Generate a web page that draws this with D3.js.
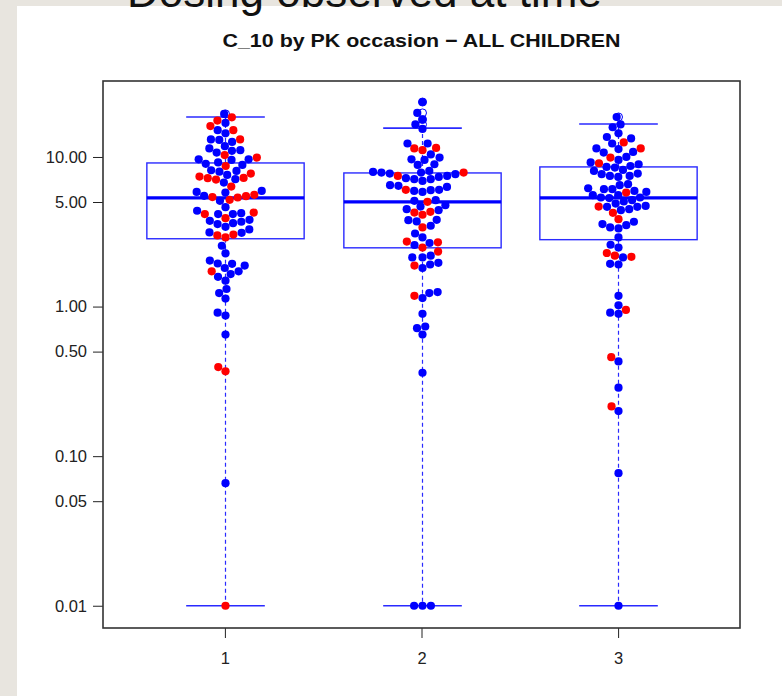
<!doctype html>
<html lang="en">
<head>
    <meta charset="utf-8">
    <title>C_10 by PK occasion</title>
    <script src="https://d3js.org/d3.v7.min.js"></script>
    <style type="text/css">
    body { margin: 0; background: #e8e5df; }
    text { font-family: "Liberation Sans", Arial, sans-serif; }
    </style>
</head>

<body>
</body>

<script type="text/javascript">

    // values, per PK occasion, split by dot colour
    var occasions = [1, 2, 3];

    var occ1Blue = [19.4, 16.9, 15.1, 14.4, 13.0, 12.6, 13.1, 11.8, 11.4, 11.1, 11.0, 10.7,
      9.65, 9.65, 9.55, 9.2, 9.0, 8.85, 8.15, 8.07, 7.98, 7.59, 7.10, 6.74, 5.93, 5.84, 5.78,
      5.50, 5.09, 4.62, 4.37, 4.21, 4.15, 4.15, 3.80, 3.74, 3.69, 3.61, 3.56, 3.41, 3.28, 3.13,
      3.11, 2.55, 2.27, 2.03, 1.94, 1.93, 1.88, 1.81, 1.72, 1.65, 1.58, 1.49, 1.31, 1.23, 1.13,
      0.91, 0.87, 0.65, 0.066];
    var occ1Red = [18.4, 17.5, 16.1, 15.1, 13.1, 10.3, 9.9, 8.7, 7.74, 7.39, 7.24, 7.21, 7.06,
      6.34, 5.58, 5.47, 5.39, 5.36, 5.17, 4.25, 4.15, 3.90, 3.03, 2.99, 2.90, 1.72, 0.394, 0.369, 0.01];

    var occ2Blue = [23.3, 19.7, 17.8, 16.5, 15.4, 12.3, 12.3, 10.4, 9.9, 9.65, 9.55, 8.94, 8.85,
      8.07, 7.94, 7.86, 7.86, 7.74, 7.67, 7.47, 7.36, 7.21, 7.10, 7.10, 6.92, 6.48, 6.41, 6.31,
      6.03, 6.0, 5.93, 5.84, 5.14, 5.09, 4.76, 4.66, 4.48, 4.41, 3.80, 3.78, 3.71, 3.47, 3.08,
      2.90, 2.66, 2.58, 2.19, 2.13, 2.13, 1.96, 1.91, 1.81, 1.25, 1.23, 1.14, 0.894, 0.736,
      0.717, 0.65, 0.361, 0.01, 0.01, 0.01];
    var occ2Red = [11.5, 11.4, 11.1, 7.86, 7.47, 6.03, 5.01, 4.30, 4.25, 4.11, 3.38, 2.72, 2.69,
      2.48, 2.33, 1.88, 1.18];

    var occ3Blue = [18.5, 16.5, 15.8, 14.4, 13.6, 13.3, 12.3, 11.4, 11.3, 10.8, 10.7, 10.0, 9.55,
      9.2, 8.94, 8.7, 8.58, 8.49, 8.19, 8.07, 7.74, 7.67, 7.47, 7.47, 7.36, 6.58, 6.48, 6.18,
      6.09, 6.09, 5.93, 5.84, 5.55, 5.55, 5.36, 5.36, 5.31, 5.14, 5.04, 4.88, 4.71, 4.64, 4.64,
      4.48, 4.41, 3.69, 3.56, 3.50, 3.38, 3.33, 2.90, 2.59, 2.48, 2.13, 1.93, 1.91, 1.18, 1.02,
      0.91, 0.894, 0.43, 0.287, 0.200, 0.077, 0.01];
    var occ3Red = [12.5, 11.4, 9.9, 9.08, 5.78, 4.66, 4.23, 3.84, 2.28, 2.19, 2.15, 0.95, 0.459, 0.215];

    // boxplot statistics
    var whiskerLo = [0.01, 0.01, 0.01];
    var quart1    = [2.84, 2.47, 2.80];
    var medians   = [5.33, 5.01, 5.33];
    var quart3    = [9.12, 7.82, 8.58];
    var whiskerHi = [18.5, 15.6, 16.6];

    var yTicks = [0.01, 0.05, 0.10, 0.50, 1.00, 5.00, 10.00];

    var groups = [
      {blue: occ1Blue, red: occ1Red},
      {blue: occ2Blue, red: occ2Red},
      {blue: occ3Blue, red: occ3Red}];

    var W = 782, H = 696;
    var margin = {top: 81, bottom: 68, left: 103, right: 42};
    var plotW = W - margin.left - margin.right;
    var plotH = H - margin.top - margin.bottom;

    var svg = d3.select("body")
    .append("svg")
    .attr("width", W)
    .attr("height", H);

    // slide background and the cut-off slide heading
    svg.append("rect").attr("width", W).attr("height", H).attr("fill", "#e8e5df");
    svg.append("rect").attr("x", 17).attr("y", 6).attr("width", W - 17).attr("height", H - 6).attr("fill", "white");
    svg.append("text")
    .attr("x", 127).attr("y", 7)
    .style("font-size", "44px")
    .attr("textLength", 475).attr("lengthAdjust", "spacingAndGlyphs")
    .attr("fill", "#111")
    .text("Dosing observed at time");

    var g = svg.append("g")
    .attr("transform", "translate(" + margin.left + "," + margin.top + ")");

    var xScale = d3.scaleLinear()
                .domain([0.38, 3.62])
                .range([0, plotW]);

    var yScale = d3.scaleLog()
                .domain([0.0071, 32.2])
                .range([plotH, 0]);

    var halfBox = xScale(1.4) - xScale(1);
    var halfCap = halfBox / 2;
    var blue = "#0000ff", red = "#ff0000";

    // boxes, whiskers and caps
    occasions.forEach(function(occ, i) {
      var cx = Math.round(xScale(occ)) + 0.5;
      var box = g.append("g");
      box.append("line")
      .attr("x1", cx).attr("x2", cx)
      .attr("y1", yScale(quart3[i])).attr("y2", yScale(whiskerHi[i]))
      .attr("stroke", "#2a2aff").attr("stroke-width", 1.2).attr("stroke-dasharray", "4,3");
      box.append("line")
      .attr("x1", cx).attr("x2", cx)
      .attr("y1", yScale(quart1[i])).attr("y2", yScale(whiskerLo[i]))
      .attr("stroke", "#2a2aff").attr("stroke-width", 1.2).attr("stroke-dasharray", "4,3");
      [whiskerHi[i], whiskerLo[i]].forEach(function(v) {
        box.append("line")
        .attr("x1", cx - halfCap).attr("x2", cx + halfCap)
        .attr("y1", yScale(v)).attr("y2", yScale(v))
        .attr("stroke", "#2a2aff").attr("stroke-width", 1.6);
      });
      box.append("rect")
      .attr("x", cx - halfBox).attr("width", 2 * halfBox)
      .attr("y", yScale(quart3[i])).attr("height", yScale(quart1[i]) - yScale(quart3[i]))
      .attr("fill", "white").attr("stroke", "#2a2aff").attr("stroke-width", 1.4);
      box.append("line")
      .attr("x1", cx - halfBox).attr("x2", cx + halfBox)
      .attr("y1", yScale(medians[i])).attr("y2", yScale(medians[i]))
      .attr("stroke", blue).attr("stroke-width", 3.2);

      // boxplot outliers (open circles, mostly hidden by the swarm)
      var all = groups[i].blue.concat(groups[i].red);
      box.selectAll(".outlier")
      .data(all.filter(function(v) { return v > whiskerHi[i] || v < whiskerLo[i]; }))
      .enter()
      .append("circle")
      .attr("cx", cx).attr("cy", function(d) { return yScale(d); })
      .attr("r", 4).attr("fill", "none").attr("stroke", blue);
    });

    // beeswarm placement, bottom value first, each dot as close to the centre as it fits
    var spacing = 8.4;
    function swarm(points) {
      points.sort(function(a, b) { return a.v - b.v; });
      var placed = [];
      points.forEach(function(p) {
        var near = placed.filter(function(q) { return Math.abs(q.y - p.y) < spacing; });
        var cands = [0];
        near.forEach(function(q) {
          var dx = Math.sqrt(spacing * spacing - (q.y - p.y) * (q.y - p.y));
          cands.push(q.dx - dx, q.dx + dx);
        });
        cands = cands.filter(function(c) {
          return near.every(function(q) {
            var ddx = c - q.dx, ddy = p.y - q.y;
            return ddx * ddx + ddy * ddy >= spacing * spacing - 0.01;
          });
        });
        cands.sort(function(a, b) { return Math.abs(a) - Math.abs(b); });
        p.dx = cands[0];
        placed.push(p);
      });
      return points;
    }

    occasions.forEach(function(occ, i) {
      var pts = groups[i].blue.map(function(v) { return {v: v, c: blue}; })
        .concat(groups[i].red.map(function(v) { return {v: v, c: red}; }));
      pts.forEach(function(p) { p.y = yScale(p.v); });
      swarm(pts);

      g.append("g").selectAll("circle")
      .data(pts)
      .enter()
      .append("circle")
      .attr("cx", function(d) { return Math.round(xScale(occ)) + 0.5 + d.dx; })
      .attr("cy", function(d) { return d.y; })
      .attr("r", 4.1)
      .attr("fill", function(d) { return d.c; });
    });

    // axes
    var yAxis = g.append("g")
    .call(d3.axisLeft(yScale).tickValues(yTicks).tickFormat(d3.format(".2f")).tickSize(10).tickPadding(6));
    var xAxis = g.append("g")
    .attr("transform", "translate(0," + plotH + ")")
    .call(d3.axisBottom(xScale).tickValues(occasions).tickFormat(d3.format("d")).tickSize(10).tickPadding(14));
    [yAxis, xAxis].forEach(function(ax) {
      ax.select(".domain").remove();
      ax.attr("font-size", null);
      ax.selectAll("line").attr("stroke", "#222");
      ax.selectAll("text").attr("fill", "#222").attr("font-size", 16.5)
      .style("font-family", "'Liberation Sans', Arial, sans-serif");
    });

    g.append("rect")
    .attr("width", plotW).attr("height", plotH)
    .attr("fill", "none").attr("stroke", "#333").attr("stroke-width", 1.6);

    svg.append("text")
    .attr("x", margin.left + plotW / 2).attr("y", 47)
    .attr("text-anchor", "middle")
    .style("font-size", "19px").style("font-weight", "bold")
    .attr("textLength", 398).attr("lengthAdjust", "spacingAndGlyphs")
    .attr("fill", "#111")
    .text("C_10 by PK occasion \u2212 ALL CHILDREN");

</script>
</html>
